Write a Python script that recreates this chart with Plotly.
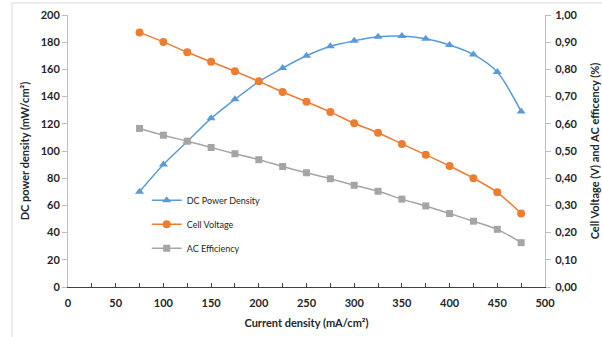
import plotly.graph_objects as go

current = [75, 100, 125, 150, 175, 200, 225, 250, 275, 300, 325, 350, 375, 400, 425, 450, 475]
dc_power = [70, 90, 107, 124, 138, 151, 161, 170, 177, 181, 184, 184.5, 182.5, 178, 171, 158, 129]
cell_voltage = [0.936, 0.901, 0.863, 0.828, 0.793, 0.756, 0.717, 0.681, 0.643, 0.602, 0.567,
                0.526, 0.486, 0.445, 0.400, 0.348, 0.270]
ac_eff = [0.583, 0.558, 0.536, 0.513, 0.490, 0.468, 0.443, 0.420, 0.398, 0.374, 0.352,
          0.323, 0.298, 0.270, 0.242, 0.212, 0.163]

BLUE = "#5B9BD5"
ORANGE = "#ED7D31"
GRAY = "#A5A5A5"
FONT = "Lato"

fig = go.Figure()
fig.add_trace(go.Scatter(x=current, y=dc_power, name="DC Power Density", mode="lines+markers",
                         line=dict(color=BLUE, width=1.5, shape="spline", smoothing=0.8),
                         marker=dict(symbol="triangle-up", size=8, color=BLUE),
                         legendgroup="a"))
fig.add_trace(go.Scatter(x=current, y=cell_voltage, name="Cell Voltage", mode="lines+markers",
                         yaxis="y2", line=dict(color=ORANGE, width=1.5, shape="spline", smoothing=0.8),
                         marker=dict(symbol="circle", size=8, color=ORANGE),
                         legendgroup="b"))
fig.add_trace(go.Scatter(x=current, y=ac_eff, name="AC Efficiency", mode="lines+markers",
                         yaxis="y2", line=dict(color=GRAY, width=1.5, shape="spline", smoothing=0.8),
                         marker=dict(symbol="square", size=7, color=GRAY),
                         legendgroup="c"))

tickfont = dict(family=FONT, size=11, color="#262626", weight="bold")
titlefont = dict(family=FONT, size=11, color="#262626", weight="bold")

fig.update_layout(
    width=602, height=337,
    margin=dict(l=68, r=57, t=15, b=50, autoexpand=False),
    paper_bgcolor="white", plot_bgcolor="white",
    separators=", ",
    showlegend=True,
    legend=dict(x=0.165, y=0.372, xanchor="left", yanchor="top",
                font=dict(family=FONT, size=9, color="#262626"),
                bgcolor="rgba(0,0,0,0)", traceorder="grouped", tracegroupgap=5,
                itemwidth=30),
    xaxis=dict(range=[0, 500], dtick=50, showgrid=False, zeroline=False, automargin=False,
               showline=True, linecolor="#404040", linewidth=1,
               ticks="inside", ticklen=4, tickcolor="#404040",
               minor=dict(dtick=25, ticks="inside", ticklen=4, tickcolor="#404040"),
               tickfont=tickfont, ticklabelstandoff=6,
               title=dict(text="Current density (mA/cm²)", font=titlefont, standoff=11)),
    yaxis=dict(range=[0, 200], dtick=20, showgrid=False, zeroline=False, automargin=False,
               showline=True, linecolor="#BFBFBF", linewidth=1,
               ticks="outside", ticklen=5, tickcolor="#BFBFBF",
               tickfont=tickfont,
               title=dict(text="DC power density (mW/cm²)", font=titlefont, standoff=8)),
    yaxis2=dict(range=[0, 1], dtick=0.1, tickformat=".2f", overlaying="y", side="right",
                showgrid=False, zeroline=False, automargin=False,
                showline=True, linecolor="#BFBFBF", linewidth=1,
                ticks="outside", ticklen=5, tickcolor="#BFBFBF",
                tickfont=tickfont, ticklabelstandoff=2,
                title=dict(text="Cell Voltage (V) and AC efficency (%)", font=titlefont, standoff=14)),
    shapes=[dict(type="rect", xref="paper", yref="paper",
                 x0=(12 - 68) / 477, x1=1.2, y0=-0.3, y1=(287 - 3) / 272,
                 line=dict(color="#D9D9D9", width=1), fillcolor="rgba(0,0,0,0)", layer="below")],
)

fig.write_html("out.html", config={"displayModeBar": False},
               post_script="document.body.style.margin='0';document.body.style.overflow='hidden';")
